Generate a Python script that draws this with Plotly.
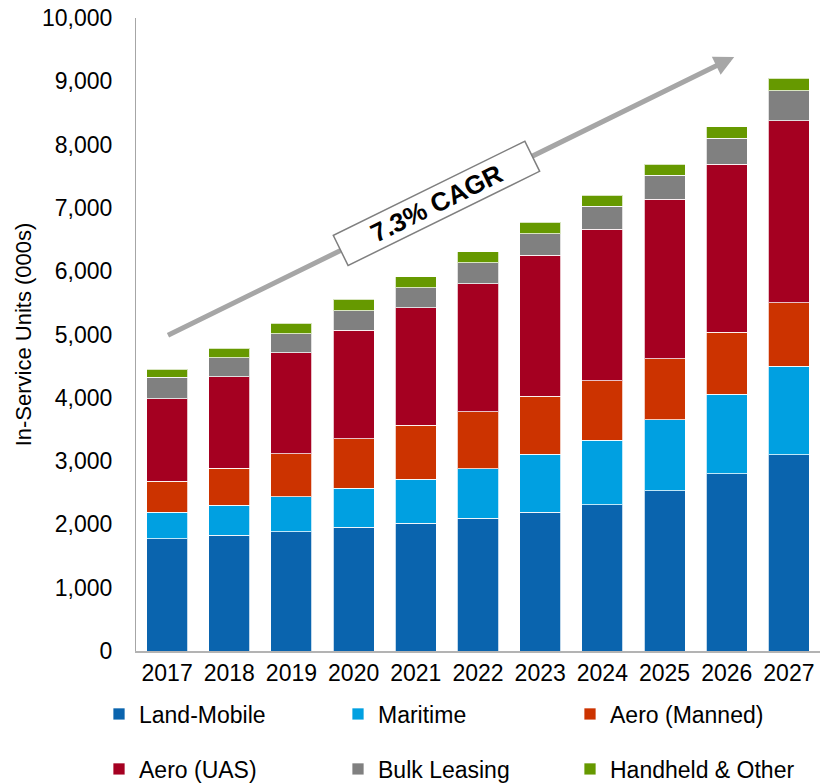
import plotly.graph_objects as go

years = ["2017", "2018", "2019", "2020", "2021", "2022", "2023", "2024", "2025", "2026", "2027"]

land_mobile = [1770, 1830, 1885, 1955, 2020, 2095, 2190, 2310, 2530, 2800, 3100]
maritime = [420, 475, 550, 620, 695, 785, 915, 1020, 1120, 1255, 1395]
aero_manned = [490, 585, 685, 780, 855, 900, 920, 940, 970, 980, 1010]
aero_uas = [1305, 1440, 1595, 1715, 1855, 2020, 2225, 2390, 2515, 2655, 2875]
bulk_leasing = [340, 305, 295, 305, 310, 335, 345, 365, 380, 410, 470]
handheld_other = [130, 150, 165, 180, 180, 170, 180, 175, 175, 180, 200]

series_names = ["Land-Mobile", "Maritime", "Aero (Manned)",
                "Aero (UAS)", "Bulk Leasing", "Handheld & Other"]
series_values = [land_mobile, maritime, aero_manned,
                 aero_uas, bulk_leasing, handheld_other]
series_colors = ["#0a64ae", "#00a0e1", "#cc3300", "#a50021", "#808080", "#669900"]

# legend grid: three columns, two rows (left edge of each entry, row centre), px
legend_cols = [99, 338, 570]
legend_rows = [714, 769]

cagr_label = "7.3% CAGR"
# trend arrow, in axis units (category index, units)
arrow_start = (-0.01, 4975)
arrow_end = (9.12, 9385)

FONT = "Liberation Sans, Arial, sans-serif"
W, H = 820, 784

fig = go.Figure()
legend_layout = {}
for i, (name, vals, color) in enumerate(zip(series_names, series_values, series_colors)):
    leg_id = "legend" if i == 0 else f"legend{i + 1}"
    fig.add_trace(go.Bar(
        name=name, x=years, y=vals, legend=leg_id,
        marker=dict(color=color, line=dict(color="rgba(255,255,255,0.75)", width=1)),
    ))
    legend_layout[leg_id] = dict(
        xref="container", yref="container",
        x=legend_cols[i % 3] / W, y=1 - legend_rows[i // 3] / H,
        xanchor="left", yanchor="middle", orientation="h",
        font=dict(size=23), bgcolor="rgba(0,0,0,0)", itemclick=False,
    )

fig.update_layout(
    barmode="stack",
    bargap=0.34,
    width=W, height=H,
    margin=dict(l=136, r=0, t=18, b=133, autoexpand=False),
    paper_bgcolor="white", plot_bgcolor="white",
    font=dict(family=FONT, size=23, color="#000000"),
    showlegend=True,
    **legend_layout,
)

fig.update_xaxes(
    type="category", showline=True, linecolor="#b3b3b3", linewidth=2,
    ticks="", showgrid=False, tickfont=dict(size=23),
)
fig.update_yaxes(
    range=[0, 10000], dtick=1000, tickformat=",d", showline=True,
    linecolor="#a6a6a6", linewidth=1, ticks="", showgrid=False, zeroline=False,
    tickfont=dict(size=23), ticklabelstandoff=18,
    title=dict(text="In-Service Units (000s)", font=dict(size=22), standoff=4),
)

# growth arrow
fig.add_annotation(
    x=arrow_end[0], y=arrow_end[1], ax=arrow_start[0], ay=arrow_start[1],
    xref="x", yref="y", axref="x", ayref="y", text="", showarrow=True,
    arrowhead=2, arrowsize=0.8, arrowwidth=5, arrowcolor="#a6a6a6",
)

# CAGR label sitting on the arrow
t = 0.475
fig.add_annotation(
    x=arrow_start[0] + t * (arrow_end[0] - arrow_start[0]),
    y=arrow_start[1] + t * (arrow_end[1] - arrow_start[1]),
    xref="x", yref="y", text="<b>" + cagr_label + "</b>", showarrow=False,
    textangle=-26.2, font=dict(size=26, color="#000000"),
    bgcolor="white", bordercolor="#7f7f7f", borderwidth=1.5, borderpad=0,
    width=212, height=32,
)

fig.write_html("out.html")
